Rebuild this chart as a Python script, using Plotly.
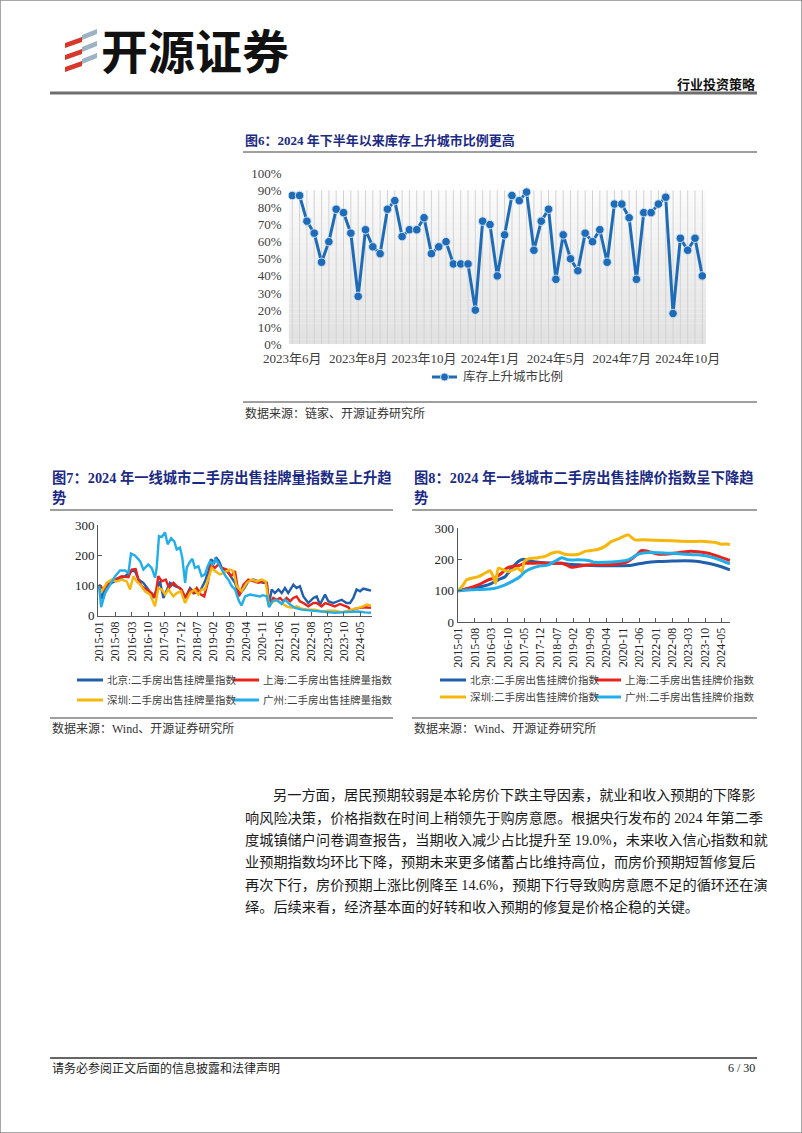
import plotly.graph_objects as go
import pandas as pd

W, H = 802, 1133
FONT = "Liberation Serif, Noto Sans CJK SC"
CJK = "Noto Sans CJK SC"
NAVY = "#1b2a84"
TXT = "#333333"

# ---------------- Figure 6 data ----------------
fig6_values = [87, 87, 72, 65, 48, 60, 79, 77, 65, 28,
               67, 57, 53, 79, 84, 63, 67, 67, 74, 53,
               57, 60, 47, 47, 47, 20, 72, 70, 40, 64,
               87, 84, 89, 55, 72, 79, 38, 64, 50, 43,
               65, 60, 67, 48, 82, 82, 74, 38, 77, 77,
               82, 86, 18, 62, 55, 62, 40]
fig6_tick_index = [1, 10, 19, 28, 37, 46, 55]
fig6_tick_labels = ["2023年6月", "2023年8月", "2023年10月", "2024年1月",
                    "2024年5月", "2024年7月", "2024年10月"]
fig6_series_name = "库存上升城市比例"

# ---------------- Figure 7 data (months since 2015-01, index value) ----------------
f7_bj_m = [0, 1, 2.6, 5.4, 8.3, 11.1, 14, 15.4, 16.9, 19, 21.1, 23.3, 24.7, 26.1, 27.6, 29, 30.4, 32.6, 34.7,
           36.9, 39, 41.1, 43.3, 45.4, 46.9, 48, 49.4, 50.1, 51.4, 52.6, 54, 55.4, 56.9, 58.3, 60, 61.9, 64,
           66.1, 68.3, 70.4, 71.9, 72.9, 74, 75.4, 76.9, 78.3, 79.7, 81.1, 83.3, 84.7, 86.1, 87.6, 89.7, 91.9,
           93.3, 94.7, 96.9, 98.3, 100.4, 102.6, 104, 106.1, 107.6, 109, 110.4, 111.9, 113.3, 114.7, 116.6]
f7_bj_v = [100, 55, 92, 109, 120, 131, 148, 148, 120, 109, 87, 59, 87, 114, 59, 87, 109, 98, 92,
           59, 92, 75, 81, 114, 148, 187, 176, 194, 181, 159, 153, 142, 126, 109, 70, 87, 114,
           120, 114, 109, 109, 37, 87, 75, 87, 75, 92, 75, 103, 92, 98, 64, 42, 59,
           64, 37, 70, 48, 42, 48, 53, 42, 42, 59, 87, 81, 90, 87, 83]
f7_sh_m = [0, 1.9, 4, 6.9, 9.7, 12.6, 14, 15.7, 16.9, 18.3, 20.4, 22.6, 24, 25.4, 26.9, 28.6, 30, 31.9, 33.3,
           35.4, 37.1, 39, 40.4, 41.9, 43.7, 45.1, 46.6, 48, 49.7, 51.1, 52.6, 54.7, 56.6, 58.3, 60, 61.9, 64,
           66.1, 68.3, 70.4, 71.9, 72.9, 74.7, 76.1, 77.6, 79, 80.4, 81.9, 83.3, 84.7, 86.1, 87.6, 89.7, 91.9,
           93.3, 95.4, 96.9, 99, 101.1, 103.3, 105.4, 106.9, 108, 109.7, 111.9, 114, 116.6]
f7_sh_v = [103, 87, 109, 120, 131, 128, 153, 155, 120, 98, 87, 75, 59, 131, 114, 120, 92, 109, 98,
           87, 59, 87, 75, 92, 70, 64, 109, 170, 159, 170, 159, 153, 131, 148, 64, 103, 120,
           114, 109, 114, 109, 31, 59, 53, 59, 48, 59, 48, 59, 64, 48, 42, 31, 42,
           42, 31, 42, 37, 31, 39, 31, 28, 14, 23, 26, 28, 26]
f7_sz_m = [0, 1.1, 3.3, 5.4, 7.6, 9.7, 11.9, 13.3, 14.7, 16.1, 17.6, 19.7, 21.9, 24, 25.4, 26.9, 28.3, 29.7,
           31.9, 33.3, 35.1, 36.9, 39, 40.9, 42.6, 44, 45.4, 46.9, 48.3, 49.7, 51.9, 53.3, 54.7, 56.1, 57.6,
           59, 61.1, 63.3, 65.4, 67.6, 69.7, 71.4, 72.9, 74.7, 76.1, 78.3, 80.4, 82.6, 84.7, 86.9, 89.7, 92.6,
           95.4, 98.3, 101.1, 104, 106.9, 109, 111.1, 113.3, 114.7, 116.6]
f7_sz_v = [75, 81, 109, 120, 114, 120, 114, 87, 131, 114, 103, 81, 70, 31, 92, 87, 70, 87,
           64, 75, 81, 42, 75, 87, 70, 87, 87, 126, 159, 148, 137, 142, 148, 153, 148,
           98, 81, 109, 120, 114, 120, 114, 31, 48, 50, 42, 31, 26, 31, 23, 20, 20,
           14, 17, 17, 12, 17, 22, 28, 31, 37, 34]
f7_gz_m = [0, 0.9, 2.6, 4.7, 6.9, 9.0, 11.1, 12.6, 13.7, 15.4, 17.6, 19.0, 21.1, 22.6, 24.0, 24.7, 25.7, 26.9,
           28.3, 29.4, 30.9, 32.3, 33.3, 34.7, 35.7, 36.9, 37.6, 38.7, 40.0, 41.1, 42.6, 44.0, 45.4, 46.6,
           47.6, 48.6, 50.0, 51.4, 52.9, 54.3, 55.4, 56.9, 58.3, 60.0, 61.1, 62.6, 64.7, 66.9, 69.0, 70.4,
           71.9, 72.9, 74.3, 76.1, 78.3, 79.7, 81.9, 84.0, 86.9, 91.1, 95.4, 98.3, 101.1, 105.4, 108.3,
           111.1, 114.0, 116.6]
f7_gz_v = [103, 28, 75, 103, 131, 150, 150, 142, 206, 200, 181, 153, 170, 158, 126, 158, 264, 261,
           276, 237, 257, 246, 220, 226, 192, 109, 159, 176, 189, 159, 164, 131, 137, 164,
           181, 170, 187, 170, 148, 131, 120, 98, 87, 48, 34, 64, 70, 68, 64, 68,
           64, 28, 48, 53, 39, 53, 37, 26, 20, 17, 14, 12, 10, 12, 14,
           14, 11, 10]

# ---------------- Figure 8 data ----------------
f8_bj_m = [0, 5.7, 11.3, 14.2, 17, 19.9, 22.7, 25.5, 27.7, 29.8, 34, 39.7, 44, 46.8, 51.1, 56.7, 62.4, 68.1,
           73.8, 79.4, 85.1, 90.8, 96.5, 102.1, 106.4, 110.6, 115.6]
f8_bj_v = [100, 108, 116, 124, 135, 145, 172, 194, 201, 197, 191, 188, 188, 185, 183, 181, 180, 180,
           182, 190, 194, 195, 196, 194, 188, 180, 167]
f8_sh_m = [0, 4.3, 8.5, 12.8, 14.9, 16.3, 18.4, 20.6, 22.7, 25.5, 28.4, 31.2, 34, 39.7, 44, 46.8, 48.2, 52.5,
           56.7, 62.4, 68.1, 72.3, 75.9, 78, 80.9, 85.1, 89.4, 93.6, 97.9, 102.1, 106.4, 110.6, 115.6]
f8_sh_v = [100, 108, 119, 135, 140, 145, 156, 172, 178, 180, 188, 188, 189, 188, 188, 180, 175, 180,
           183, 183, 186, 194, 215, 229, 226, 217, 218, 222, 226, 225, 220, 210, 197]
f8_sz_m = [0, 2.1, 3.5, 5.7, 8.5, 11.3, 13.5, 14.9, 15.9, 17, 19.1, 21.3, 23.4, 25.5, 27, 28.1, 29.8, 34,
           36.9, 39.7, 42.6, 45.4, 48.2, 51.1, 53.9, 56.7, 59.6, 62.4, 65.2, 68.1, 70.9, 72.3, 75.2, 78,
           83.7, 90.8, 97.9, 105, 109.2, 112.1, 114.2, 115.6]
f8_sz_v = [100, 119, 135, 140, 145, 156, 164, 145, 124, 172, 167, 161, 167, 172, 161, 194, 202, 206,
           210, 220, 224, 217, 215, 217, 226, 229, 233, 242, 258, 266, 276, 279, 263, 263,
           262, 260, 258, 258, 255, 249, 250, 248]
f8_gz_m = [0, 5.7, 11.3, 15.6, 19.9, 24.1, 26.2, 28.4, 31.2, 34, 38.3, 41.8, 44, 46.8, 51.1, 55.3, 58.2, 62.4,
           68.1, 72.3, 76.6, 79.4, 85.1, 90.8, 96.5, 102.1, 106.4, 110.6, 115.6]
f8_gz_v = [100, 103, 105, 108, 119, 135, 145, 161, 172, 178, 183, 197, 206, 199, 199, 197, 191, 191,
           194, 199, 217, 222, 222, 220, 217, 215, 210, 201, 186]

date_tick_labels = ["2015-01", "2015-08", "2016-03", "2016-10", "2017-05", "2017-12", "2018-07",
                    "2019-02", "2019-09", "2020-04", "2020-11", "2021-06", "2022-01", "2022-08",
                    "2023-03", "2023-10", "2024-05"]

f7_names = ["北京:二手房出售挂牌量指数", "上海:二手房出售挂牌量指数",
            "深圳:二手房出售挂牌量指数", "广州:二手房出售挂牌量指数"]
f8_names = ["北京:二手房出售挂牌价指数", "上海:二手房出售挂牌价指数",
            "深圳:二手房出售挂牌价指数", "广州:二手房出售挂牌价指数"]
city_colors = ["#1f5fae", "#e8231b", "#f6b60c", "#22aee8"]

para_lines = [
    "另一方面，居民预期较弱是本轮房价下跌主导因素，就业和收入预期的下降影",
    "响风险决策，价格指数在时间上稍领先于购房意愿。根据央行发布的 2024 年第二季",
    "度城镇储户问卷调查报告，当期收入减少占比提升至 19.0%，未来收入信心指数和就",
    "业预期指数均环比下降，预期未来更多储蓄占比维持高位，而房价预期短暂修复后",
    "再次下行，房价预期上涨比例降至 14.6%，预期下行导致购房意愿不足的循环还在演",
    "绎。后续来看，经济基本面的好转和收入预期的修复是价格企稳的关键。",
]

START = pd.Timestamp("2015-01-01")


def mdate(m):
    return START + pd.Timedelta(days=float(m) * 30.4375)


def px(x):
    return x / W


def py(y):
    return 1 - y / H


fig = go.Figure()
shapes = []
ann = []

# ---------------- Figure 6 ----------------
x6 = list(range(1, len(fig6_values) + 1))
BG_TOP = 90
NB = 30
for i in range(NB):
    t = i / (NB - 1)
    g = int(226 + (251 - 226) * t)
    shapes.append(dict(type="rect", xref="x", yref="y", x0=0.5, x1=len(x6) + 0.5,
                       y0=BG_TOP * i / NB, y1=BG_TOP * (i + 1) / NB,
                       fillcolor=f"rgb({g},{g},{g})", line_width=0, layer="below"))
for xi in x6:
    shapes.append(dict(type="line", xref="x", yref="y", x0=xi, x1=xi, y0=0, y1=BG_TOP,
                       line=dict(color="#d2d2d2", width=1), layer="below"))

fig.add_trace(go.Scatter(x=x6, y=fig6_values, mode="lines+markers", name=fig6_series_name,
                         line=dict(color="#1e6cb8", width=3),
                         marker=dict(size=8.5, color="#1e6cb8", line=dict(color="#cfe0f1", width=1)),
                         xaxis="x", yaxis="y"))

# ---------------- Figure 7 ----------------
f7 = [(f7_bj_m, f7_bj_v), (f7_sh_m, f7_sh_v), (f7_sz_m, f7_sz_v), (f7_gz_m, f7_gz_v)]
for (mm, vv), nm, col in zip(f7, f7_names, city_colors):
    fig.add_trace(go.Scatter(x=[mdate(m) for m in mm], y=vv, mode="lines", name=nm,
                             line=dict(color=col, width=2.4), xaxis="x2", yaxis="y2"))

# ---------------- Figure 8 ----------------
f8 = [(f8_bj_m, f8_bj_v), (f8_sh_m, f8_sh_v), (f8_sz_m, f8_sz_v), (f8_gz_m, f8_gz_v)]
for (mm, vv), nm, col in zip(f8, f8_names, city_colors):
    fig.add_trace(go.Scatter(x=[mdate(m) for m in mm], y=vv, mode="lines", name=nm,
                             line=dict(color=col, width=3, shape="spline", smoothing=0.6),
                             xaxis="x3", yaxis="y3"))

tick_dates = [mdate(7 * k) for k in range(len(date_tick_labels))]

axis_common = dict(showgrid=False, zeroline=False, automargin=False)
tickf = dict(family=FONT, size=13, color="#404040")

fig.update_layout(
    template="none",
    width=W, height=H, margin=dict(l=0, r=0, t=0, b=0, pad=0), autosize=False,
    paper_bgcolor="white", plot_bgcolor="rgba(0,0,0,0)", showlegend=False,
    xaxis=dict(domain=[px(288.6), px(706)], range=[0.5, len(x6) + 0.5], tickmode="array",
               tickvals=fig6_tick_index, ticktext=fig6_tick_labels, showline=False, ticks="",
               ticklabelstandoff=5, tickfont=tickf, anchor="y", **axis_common),
    yaxis=dict(domain=[py(344.3), py(173.3)], range=[0, 100], dtick=10, ticksuffix="%",
               showline=False, ticks="", ticklabelstandoff=6, tickfont=tickf, anchor="x", **axis_common),
    xaxis2=dict(type="date", domain=[px(98.1), px(371.5)], range=[mdate(-0.4), mdate(116.8)],
                tickmode="array", tickvals=tick_dates, ticktext=date_tick_labels, tickangle=-90,
                ticks="inside", ticklen=4, tickcolor="#595959", showline=True, linecolor="#595959",
                linewidth=1, tickfont=dict(family=FONT, size=12, color="#222"), anchor="y2",
                **axis_common),
    yaxis2=dict(domain=[py(615.7), py(525.3)], range=[0, 300], dtick=100, ticks="inside", ticklen=4,
                tickcolor="#595959", showline=True, linecolor="#595959", linewidth=1,
                tickfont=dict(family=FONT, size=13, color="#222"), anchor="x2", **axis_common),
    xaxis3=dict(type="date", domain=[px(457.6), px(730.4)], range=[mdate(-0.3), mdate(115.8)],
                tickmode="array", tickvals=tick_dates, ticktext=date_tick_labels, tickangle=-90,
                ticks="inside", ticklen=4, tickcolor="#595959", showline=True, linecolor="#595959",
                linewidth=1, tickfont=dict(family=FONT, size=12, color="#222"), anchor="y3",
                **axis_common),
    yaxis3=dict(domain=[py(622), py(528.3)], range=[0, 300], dtick=100, ticks="inside", ticklen=4,
                tickcolor="#595959", showline=True, linecolor="#595959", linewidth=1,
                tickfont=dict(family=FONT, size=13, color="#222"), anchor="x3", **axis_common),
)


def text(x, y, s, size=12, color=TXT, bold=False, xanchor="left", family=FONT):
    if bold:
        s = "<b>" + s + "</b>"
    ann.append(dict(xref="paper", yref="paper", x=px(x), y=py(y), text=s, showarrow=False,
                    xanchor=xanchor, yanchor="middle", font=dict(family=family, size=size, color=color)))


def hline(x0, x1, y, color="#7f7f7f", width=1.5):
    shapes.append(dict(type="line", xref="paper", yref="paper", x0=px(x0), x1=px(x1), y0=py(y), y1=py(y),
                       line=dict(color=color, width=width)))


# page frame
shapes.append(dict(type="rect", xref="paper", yref="paper", x0=0, x1=1, y0=0, y1=1,
                   line=dict(color="#8a8a8a", width=1.5)))

# ---------------- Header ----------------
red = "#d8382a"
grey_blue = "#9bb3c2"
for k in range(3):
    y0 = 42 + 12 * k
    shapes.append(dict(type="path", xref="paper", yref="paper",
                       path=f"M {px(65)},{py(y0 + 6)} L {px(82)},{py(y0)} L {px(82)},{py(y0 - 5)} L {px(65)},{py(y0 + 1)} Z",
                       fillcolor=red, line_width=0))
    y1 = 34 + 12 * k
    shapes.append(dict(type="path", xref="paper", yref="paper",
                       path=f"M {px(82)},{py(y1 + 6)} L {px(97)},{py(y1)} L {px(97)},{py(y1 - 5)} L {px(82)},{py(y1 + 1)} Z",
                       fillcolor=grey_blue, line_width=0))
text(99, 48, "开源证券", size=47, color="#111111", bold=True, family=CJK)
text(757, 83, "行业投资策略", size=13, color="#111111", bold=True, xanchor="right", family=CJK)
hline(50, 757, 93, color="#6e6e6e", width=3)

# ---------------- Figure 6 texts ----------------
text(243, 141, "图6：2024 年下半年以来库存上升城市比例更高", size=13, color=NAVY, bold=True)
hline(243, 757, 152)
shapes.append(dict(type="line", xref="paper", yref="paper", x0=px(432), x1=px(457), y0=py(377), y1=py(377),
                   line=dict(color="#1e6cb8", width=3)))
shapes.append(dict(type="circle", xref="paper", yref="paper", x0=px(440.5), x1=px(448.5), y0=py(381), y1=py(373),
                   fillcolor="#1e6cb8", line=dict(color="#cfe0f1", width=1)))
text(461, 377, fig6_series_name, size=12.5, color="#404040")
hline(243, 757, 402)
text(243, 413, "数据来源：链家、开源证券研究所", size=12, color=TXT)

# ---------------- Figure 7/8 titles ----------------
text(50, 477, "图7：2024 年一线城市二手房出售挂牌量指数呈上升趋", size=14.3, color=NAVY, bold=True)
text(50, 498, "势", size=14.3, color=NAVY, bold=True)
hline(50, 393, 510)
text(412, 477, "图8：2024 年一线城市二手房出售挂牌价指数呈下降趋", size=14.3, color=NAVY, bold=True)
text(412, 498, "势", size=14.3, color=NAVY, bold=True)
hline(412, 757, 510)

# legends
leg7 = [(77, 680), (233, 680), (77, 700), (233, 700)]
for (lx, ly), nm, col in zip(leg7, f7_names, city_colors):
    shapes.append(dict(type="line", xref="paper", yref="paper", x0=px(lx), x1=px(lx + 26), y0=py(ly), y1=py(ly),
                       line=dict(color=col, width=3)))
    text(lx + 28, ly, nm, size=10.5, color="#404040")
leg8 = [(440, 680), (595, 680), (440, 697), (595, 697)]
for (lx, ly), nm, col in zip(leg8, f8_names, city_colors):
    shapes.append(dict(type="line", xref="paper", yref="paper", x0=px(lx), x1=px(lx + 26), y0=py(ly), y1=py(ly),
                       line=dict(color=col, width=3)))
    text(lx + 28, ly, nm, size=10.5, color="#404040")

hline(50, 393, 718)
text(50, 728, "数据来源：Wind、开源证券研究所", size=12, color=TXT)
hline(412, 757, 718)
text(412, 728, "数据来源：Wind、开源证券研究所", size=12, color=TXT)

# ---------------- Paragraph ----------------
para_y = [795, 818, 840, 862, 885, 907]
for i, (ln, yy) in enumerate(zip(para_lines, para_y)):
    text(271 if i == 0 else 243, yy, ln, size=14.2, color="#1a1a1a")

# ---------------- Footer ----------------
hline(50, 757, 1058, color="#333333", width=1.5)
text(50, 1068, "请务必参阅正文后面的信息披露和法律声明", size=12, color="#222")
text(757, 1068, "6 / 30", size=12, color="#222", xanchor="right")

fig.update_layout(shapes=shapes, annotations=ann)
fig.write_html("out.html", config={"displayModeBar": False, "staticPlot": True},
               post_script="document.body.style.margin='0';document.body.style.overflow='hidden';")
